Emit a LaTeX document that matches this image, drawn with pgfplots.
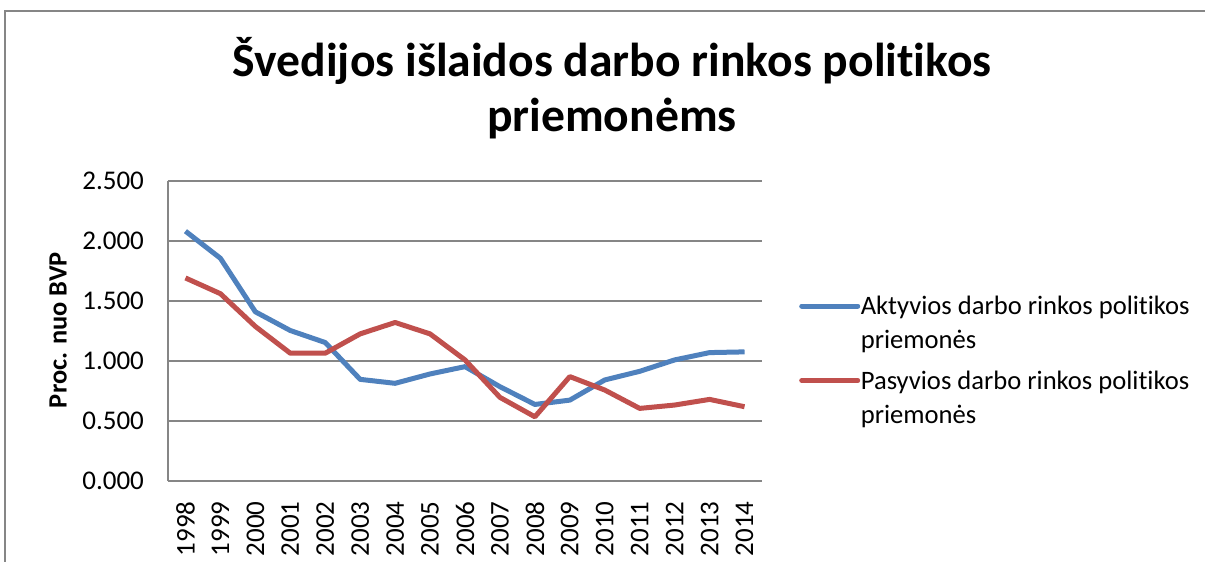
\documentclass[border=0pt]{standalone}
\usepackage{pgfplots}
\pgfplotsset{compat=1.18}
\usepackage{fontspec}
\setmainfont[Ligatures={NoCommon}]{Carlito}
\definecolor{ablue}{HTML}{4F81BD}
\definecolor{ared}{HTML}{C0504D}
\definecolor{gridc}{HTML}{868686}
\begin{document}
\begin{tikzpicture}[x=0.5pt,y=0.5pt]
\useasboundingbox (0,0) rectangle (1205,562);
\draw[color=gridc, line width=0.8pt] (5,-5) -- (5,551) -- (1210,551);
\node[font=\fontsize{23.8}{28}\selectfont\bfseries, anchor=base, inner sep=0pt] at (612,485) {Švedijos išlaidos darbo rinkos politikos};
\node[font=\fontsize{23.8}{28}\selectfont\bfseries, anchor=base, inner sep=0pt] at (612,430) {priemonėms};
\begin{axis}[
  at={(84pt,40.5pt)}, anchor=south west, scale only axis,
  width=297pt, height=150pt,
  xmin=-0.5, xmax=16.5, ymin=0, ymax=2.5,
  xtick={0,1,...,16},
  xticklabels={1998,1999,2000,2001,2002,2003,2004,2005,2006,2007,2008,2009,2010,2011,2012,2013,2014},
  ytick={0,0.5,1,1.5,2,2.5},
  /pgf/number format/fixed, /pgf/number format/fixed zerofill, /pgf/number format/precision=3,
  /pgf/number format/assume math mode=true,
  ymajorgrids, major grid style={gridc, line width=0.7pt},
  axis x line*=bottom, axis y line*=left,
  axis line style={gridc, line width=0.7pt, -},
  major tick length=0pt,
  tick label style={font=\fontsize{13.5}{16}\selectfont},
  x tick label style={rotate=90, anchor=east, inner xsep=10pt},
  y tick label style={anchor=east, xshift=-8.5pt},
  ylabel={Proc. nuo BVP},
  every axis y label/.style={at={(axis description cs:-0.185,0.503)}, rotate=90, anchor=center, font=\fontsize{13.2}{16}\selectfont\bfseries},
  legend style={at={(axis description cs:1.062,0.627)}, anchor=north west, draw=none, fill=none, inner sep=0pt,
    font=\fontsize{13.3}{17}\selectfont, cells={align=left}, row sep=6.5pt,
    nodes={inner xsep=0.3pt, inner ysep=1.5pt}},
  legend cell align=left,
  legend image code/.code={\draw[#1, line width=2.5pt, line cap=round, yshift=9pt] (0pt,0pt) -- (28pt,0pt);},
  every axis plot/.append style={line width=2.5pt, line join=round},
]
\addplot[color=ablue] coordinates {(0,2.082)(1,1.856)(2,1.41)(3,1.254)(4,1.154)(5,0.847)(6,0.814)(7,0.892)(8,0.953)(9,0.786)(10,0.638)(11,0.674)(12,0.842)(13,0.914)(14,1.009)(15,1.07)(16,1.076)};
\addlegendentry{Aktyvios darbo rinkos politikos\\priemonės}
\addplot[color=ared] coordinates {(0,1.692)(1,1.561)(2,1.288)(3,1.065)(4,1.065)(5,1.226)(6,1.321)(7,1.226)(8,1.009)(9,0.697)(10,0.535)(11,0.870)(12,0.758)(13,0.605)(14,0.633)(15,0.680)(16,0.619)};
\addlegendentry{Pasyvios darbo rinkos politikos\\priemonės}
\end{axis}
\end{tikzpicture}
\end{document}
